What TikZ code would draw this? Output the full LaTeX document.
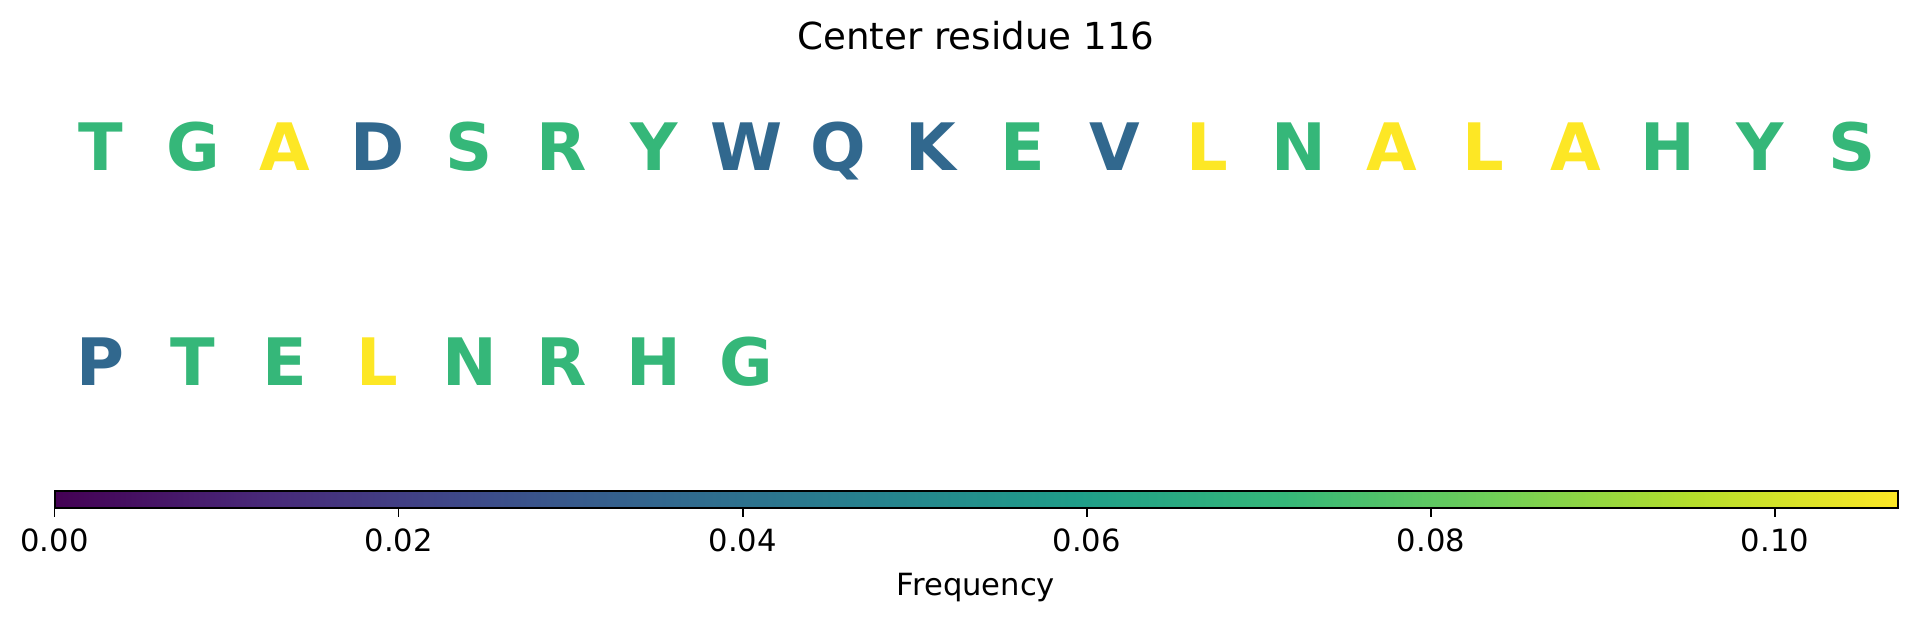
\documentclass[tikz,border=0pt]{standalone}
\usepackage{fontspec}
\setmainfont{DejaVu Sans}
\usepackage{xcolor}
\usepackage{tikz}
\definecolor{vir0}{HTML}{440154}
\definecolor{vir1}{HTML}{482878}
\definecolor{vir2}{HTML}{3E4989}
\definecolor{vir3}{HTML}{31688E}
\definecolor{vir4}{HTML}{26828E}
\definecolor{vir5}{HTML}{1F9E89}
\definecolor{vir6}{HTML}{35B779}
\definecolor{vir7}{HTML}{6ECE58}
\definecolor{vir8}{HTML}{B5DE2B}
\definecolor{vir9}{HTML}{FDE725}
\pgfdeclarehorizontalshading{viridis}{100bp}{color(0bp)=(vir0); color(25bp)=(vir0); color(30.56bp)=(vir1); color(36.11bp)=(vir2); color(41.67bp)=(vir3); color(47.22bp)=(vir4); color(52.78bp)=(vir5); color(58.33bp)=(vir6); color(63.89bp)=(vir7); color(69.44bp)=(vir8); color(75bp)=(vir9); color(100bp)=(vir9)}
\tikzset{res/.style={font=\fontsize{32.7bp}{36bp}\selectfont\bfseries, inner sep=0pt, anchor=base}, lbl/.style={font=\fontsize{15.3bp}{18bp}\selectfont, inner sep=0pt, anchor=base}}

\begin{document}
\begin{tikzpicture}[x=0.5bp, y=-0.5bp]
\useasboundingbox (0, 0) rectangle (1917, 619);
  \node[lbl, font=\fontsize{18.6bp}{22bp}\selectfont] (title) at (976, 50) {Center residue 116};
  % first row
  \node[res, vir6] (a1) at (100.7, 171) {T};
  \node[res, vir6] (a2) at (192.9, 171) {G};
  \node[res, vir9] (a3) at (285.1, 171) {A};
  \node[res, vir3] (a4) at (377.3, 171) {D};
  \node[res, vir6] (a5) at (469.5, 171) {S};
  \node[res, vir6] (a6) at (561.7, 171) {R};
  \node[res, vir6] (a7) at (653.9, 171) {Y};
  \node[res, vir3] (a8) at (746.1, 171) {W};
  \node[res, vir3] (a9) at (838.3, 171) {Q};
  \node[res, vir3] (a10) at (930.5, 171) {K};
  \node[res, vir6] (a11) at (1022.7, 171) {E};
  \node[res, vir3] (a12) at (1114.9, 171) {V};
  \node[res, vir9] (a13) at (1207.1, 171) {L};
  \node[res, vir6] (a14) at (1299.3, 171) {N};
  \node[res, vir9] (a15) at (1391.5, 171) {A};
  \node[res, vir9] (a16) at (1483.7, 171) {L};
  \node[res, vir9] (a17) at (1575.9, 171) {A};
  \node[res, vir6] (a18) at (1668.1, 171) {H};
  \node[res, vir6] (a19) at (1760.3, 171) {Y};
  \node[res, vir6] (a20) at (1852.5, 171) {S};
  % second row
  \node[res, vir3] (b1) at (100.7, 385) {P};
  \node[res, vir6] (b2) at (192.9, 385) {T};
  \node[res, vir6] (b3) at (285.1, 385) {E};
  \node[res, vir9] (b4) at (377.3, 385) {L};
  \node[res, vir6] (b5) at (469.5, 385) {N};
  \node[res, vir6] (b6) at (561.7, 385) {R};
  \node[res, vir6] (b7) at (653.9, 385) {H};
  \node[res, vir6] (b8) at (746.1, 385) {G};
  % colour bar
  \shade[shading=viridis] (54.5, 491) rectangle (1898, 508.3);
  \draw[line width=1bp] (54.5, 491) rectangle (1898, 508.3);
  \draw[line width=0.8bp] (54.5, 508.3) -- (54.5, 516.7);
  \draw[line width=0.8bp] (398.6, 508.3) -- (398.6, 516.7);
  \draw[line width=0.8bp] (742.7, 508.3) -- (742.7, 516.7);
  \draw[line width=0.8bp] (1086.8, 508.3) -- (1086.8, 516.7);
  \draw[line width=0.8bp] (1430.9, 508.3) -- (1430.9, 516.7);
  \draw[line width=0.8bp] (1775, 508.3) -- (1775, 516.7);
  \node[lbl] (l0) at (54.5, 551.7) {0.00};
  \node[lbl] (l1) at (398.6, 551.7) {0.02};
  \node[lbl] (l2) at (742.7, 551.7) {0.04};
  \node[lbl] (l3) at (1086.8, 551.7) {0.06};
  \node[lbl] (l4) at (1430.9, 551.7) {0.08};
  \node[lbl] (l5) at (1775, 551.7) {0.10};
  \node[lbl] (freq) at (976, 595) {Frequency};
\end{tikzpicture}
\end{document}
